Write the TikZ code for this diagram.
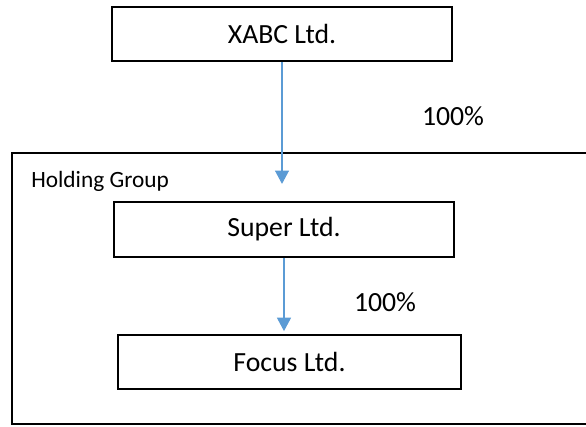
\documentclass[tikz,border=0pt]{standalone}
\usepackage{fontspec}
\setmainfont{Carlito}
\usepackage{xcolor}
\usepackage{tikz}
\usetikzlibrary{arrows.meta}

\definecolor{linkblue}{RGB}{91,155,213}

\begin{document}
\begin{tikzpicture}[x=0.75pt,y=0.75pt,yscale=-1,xscale=1,
  company/.style={draw, line width=1.4pt, minimum width=255pt, minimum height=41pt, inner sep=0pt, font=\fontsize{20.8}{25}\selectfont},
  share/.style={inner sep=0.75pt, font=\fontsize{20.8}{25}\selectfont},
  link/.style={draw=linkblue, line width=0.8pt, -{Triangle[width=10.5pt,length=10pt]}, linkblue}]
\useasboundingbox (0,0) rectangle (586,426);

%Shape: Rectangle [holding group frame]
\draw [line width=1.5pt] (12,153) rectangle (592,424);

% Company Nodes
\node [company] (xabc) at (282,34) {XABC Ltd.};
\node [company] (super) at (284,229.5) {Super Ltd.};
\node [company, minimum width=257pt] (focus) at (289.5,362) {Focus Ltd.};

% Text Node
\node [anchor=west, inner sep=0.75pt, font=\fontsize{17.5}{21}\selectfont] (grouplabel) at (30,181) {Holding Group};
% Text Node
\node [share] (share1) at (453,116) {100\%};
% Text Node
\node [share] (share2) at (385,302) {100\%};

% Ownership arrows
\draw [link, shorten >=13] (xabc.south) -- (xabc.south |- super.north);
\draw [link, shorten >=2] (super.south) -- (super.south |- focus.north);
\end{tikzpicture}
\end{document}
